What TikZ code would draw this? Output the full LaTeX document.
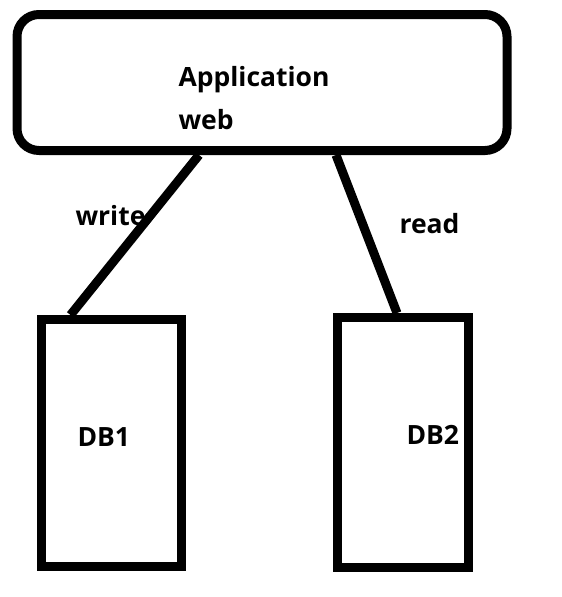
\documentclass[tikz,border=0pt]{standalone}
\usepackage{fontspec}
\setmainfont{Open Sans}

\begin{document}
\begin{tikzpicture}[x=1pt, y=-1pt, line width=9pt,
    box/.style={draw, rectangle, inner sep=0pt},
    label_text/.style={anchor=base west, inner sep=0pt, font=\fontsize{26.5}{32}\selectfont\bfseries}]
            \useasboundingbox (0,0) rectangle (562,597);
            \node[box, rounded corners=22pt, minimum width=490pt, minimum height=136pt] (app) at (262,82.5) {};
            \node[label_text] (app_name) at (174,86) {Application};
            \node[label_text] (app_kind) at (174,129) {web};
            \node[box, minimum width=140pt, minimum height=247pt] (db1) at (111.5,443) {};
            \node[box, minimum width=131pt, minimum height=250pt] (db2) at (403,442.5) {};
            \node[label_text] (db1_name) at (73,446) {DB1};
            \node[label_text] (db2_name) at (402,444) {DB2};
            \draw ([xshift=-63pt]app.south) -- ([xshift=-41pt]db1.north);
            \draw ([xshift=74pt]app.south) -- ([xshift=-6pt]db2.north);
            \node[label_text] (write_label) at (71,225) {write};
            \node[label_text] (read_label) at (395,233) {read};
        \end{tikzpicture}
\end{document}
